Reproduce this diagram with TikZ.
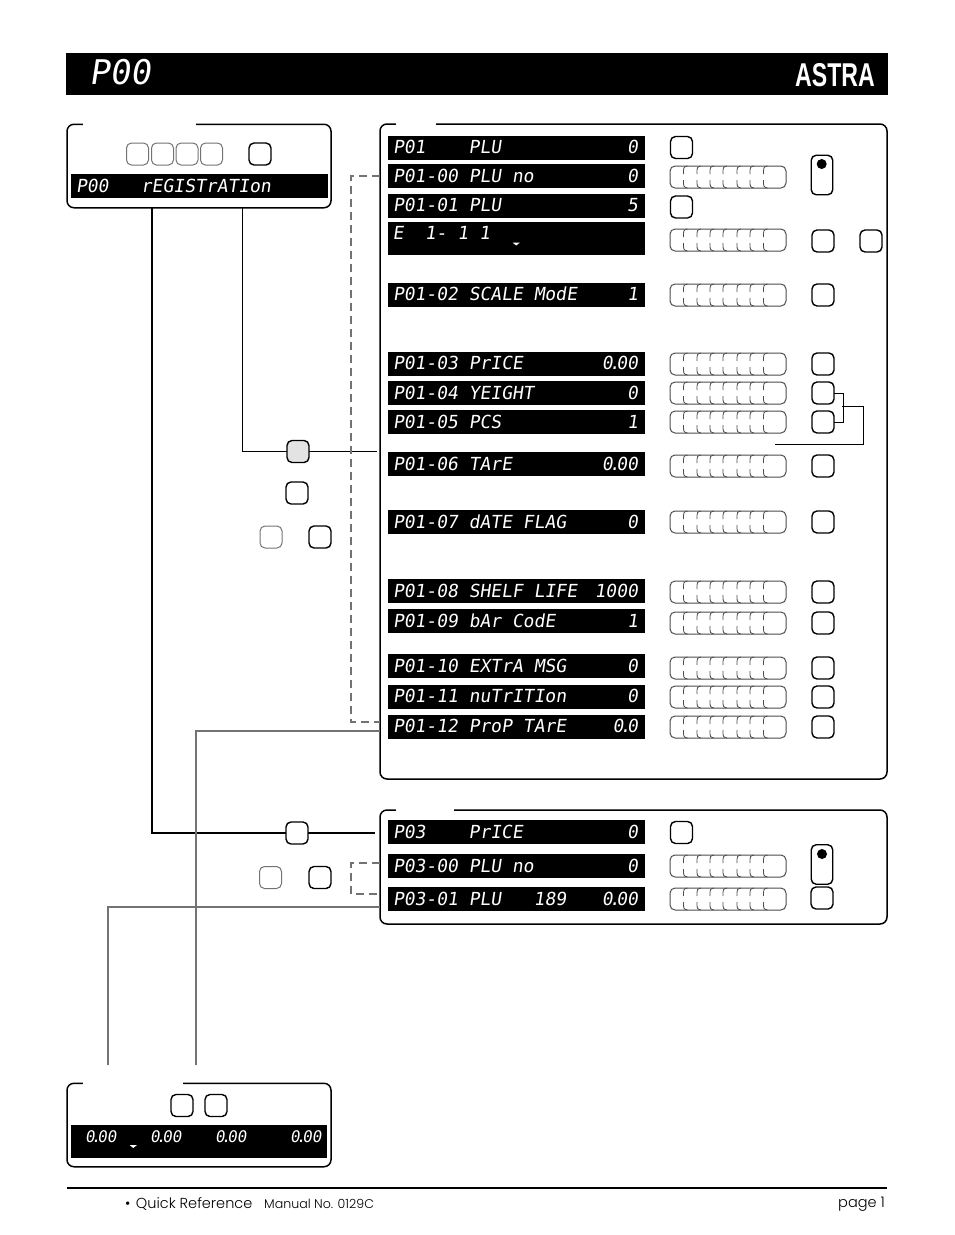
\documentclass[tikz,border=0pt]{standalone}
\usepackage{fontspec}
\usetikzlibrary{positioning}
\newfontfamily\dispfont[FakeSlant=0.15]{DejaVu Sans Mono}
\newfontfamily\logofont[FakeStretch=0.7]{Liberation Sans}
\newfontfamily\footfont{Poppins Light}
\newcommand{\dispdot}{\kern-3.6pt.\kern-3.6pt}
\tikzset{
    panel/.style={draw, line width=1.5pt, rounded corners=7pt, inner sep=0pt, outer sep=0pt},
    panelgap/.style={white, line width=3pt},
    keybtn/.style={draw, line width=1.4pt, rounded corners=5pt, minimum size=22pt, inner sep=0pt, outer sep=0pt},
    keythin/.style={keybtn, draw=black!55, line width=1pt},
    keytall/.style={keybtn, minimum width=21.5pt, minimum height=39.5pt},
    dispbar/.style={fill=black, text=white, font=\dispfont\fontsize{18}{18}\selectfont, inner xsep=5pt, inner ysep=0pt, outer sep=0pt, text width=247pt, text height=12pt, text depth=0pt, minimum height=24pt, execute at begin node={\spaceskip=10.8pt\relax\rightskip=2pt\relax}},
    dtext/.style={text=white, font=\dispfont\fontsize{16}{16}\selectfont, inner sep=0pt, anchor=west},
    wire/.style={draw, line width=1pt},
    wirelink/.style={draw=black!55, line width=1.7pt},
    wiredash/.style={draw=black!55, line width=2pt, dash pattern=on 8pt off 5pt},
    footline/.style={font=\footfont\fontsize{14.5}{14.5}\selectfont, inner sep=0pt},
    keystrip/.pic={
        \node[draw=black!70, line width=1pt, rounded corners=5pt, minimum width=116pt, minimum height=22pt, inner sep=0pt, outer sep=0pt] (-box) {};
        \foreach \i in {-44.5,-31,-18,-5,9,22,35.5}
            \draw[black!70, line width=0.8pt] (\i+4,-11) .. controls (\i,-10) .. (\i,-3) (\i,3) .. controls (\i,10) .. (\i+4,11);
    }
}
\begin{document}
\begin{tikzpicture}[x=1pt, y=-1pt]
    \useasboundingbox (0,0) rectangle (954,1235);

    \node[fill=black, minimum width=822pt, minimum height=42pt, inner sep=0pt] (titlebar) at (477,74) {};
    \node[text=white, font=\dispfont\fontsize{34}{34}\selectfont, inner sep=0pt, anchor=west] (titletext) at (89,72) {P00};
    \node[text=white, font=\logofont\bfseries\fontsize{33}{33}\selectfont, inner sep=0pt] (logo) at (835,75) {ASTRA};

    \node[panel, minimum width=264pt, minimum height=83.5pt] (regpanel) at (199,166) {};
    \draw[panelgap] (83,124.2) -- (196,124.2);
    \node[keythin] (regk1) at (137.5,154) {};
    \node[keythin] (regk2) at (162.5,154) {};
    \node[keythin] (regk3) at (187,154) {};
    \node[keythin] (regk4) at (211.5,154) {};
    \node[keybtn] (regk5) at (260,154) {};
    \node[dispbar] (regbar) at (199.5,186) {P00~~~rEGISTrATIon};

    \node[panel, minimum width=507pt, minimum height=655pt] (mainpanel) at (633.5,451.5) {};
    \draw[panelgap] (396,124) -- (436,124);
    \node[dispbar] (p01) at (516.5,147.5) {P01~~~~PLU\hfill 0};
    \node[dispbar] (p0100) at (516.5,176) {P01-00 PLU no\hfill 0};
    \node[dispbar] (p0101) at (516.5,205.5) {P01-01 PLU\hfill 5};
    \node[dispbar, minimum height=33pt, text depth=11pt] (enote) at (516,238.5) {E~~1-~1~1};
    \fill[white] (512.5,242.5) -- (520,242.5) -- (516.2,245.5) -- cycle;
    \node[dispbar] (p0102) at (516.5,294.5) {P01-02 SCALE ModE\hfill 1};
    \node[dispbar] (p0103) at (516.5,363.5) {P01-03 PrICE\hfill 0\dispdot 00};
    \node[dispbar] (p0104) at (516.5,393) {P01-04 YEIGHT\hfill 0};
    \node[dispbar] (p0105) at (516.5,422) {P01-05 PCS\hfill 1};
    \node[dispbar] (p0106) at (516.5,464) {P01-06 TArE\hfill 0\dispdot 00};
    \node[dispbar] (p0107) at (516.5,522) {P01-07 dATE FLAG\hfill 0};
    \node[dispbar] (p0108) at (516.5,591) {P01-08 SHELF LIFE\hfill 1000};
    \node[dispbar] (p0109) at (516.5,621) {P01-09 bAr CodE\hfill 1};
    \node[dispbar] (p0110) at (516.5,666) {P01-10 EXTrA MSG\hfill 0};
    \node[dispbar] (p0111) at (516.5,696.5) {P01-11 nuTrITIon\hfill 0};
    \node[dispbar] (p0112) at (516.5,726.5) {P01-12 ProP TArE\hfill 0\dispdot 0};

    \node[keybtn] (plukey) at (681.5,147.5) {};
    \node[keybtn] (plukeyb) at (681.5,207) {};
    \pic (s00) at (728,177) {keystrip};
    \pic (s01) at (728,240) {keystrip};
    \pic (s02) at (728,295) {keystrip};
    \pic (s03) at (728,364) {keystrip};
    \pic (s04) at (728,393) {keystrip};
    \pic (s05) at (728,422) {keystrip};
    \pic (s06) at (728,466) {keystrip};
    \pic (s07) at (728,522) {keystrip};
    \pic (s08) at (728,592) {keystrip};
    \pic (s09) at (728,623) {keystrip};
    \pic (s10) at (728,668) {keystrip};
    \pic (s11) at (728,697) {keystrip};
    \pic (s12) at (728,727) {keystrip};

    \node[keytall] (lockkey) at (822,175) {};
    \fill (821.7,164) circle (5pt);
    \node[keybtn] (k01) at (823,241) {};
    \node[keybtn] (k01b) at (871,241) {};
    \node[keybtn] (k02) at (823,295) {};
    \node[keybtn] (k03) at (823,364) {};
    \node[keybtn] (k04) at (823,393) {};
    \node[keybtn] (k05) at (823,422) {};
    \node[keybtn] (k06) at (823,466) {};
    \node[keybtn] (k07) at (823,522) {};
    \node[keybtn] (k08) at (823,592) {};
    \node[keybtn] (k09) at (823,623) {};
    \node[keybtn] (k10) at (823,668) {};
    \node[keybtn] (k11) at (823,697) {};
    \node[keybtn] (k12) at (823,727) {};

    \coordinate (brkout) at (842,406);
    \coordinate (brkturn) at (863,444);
    \coordinate (brkend) at (775,444);
    \draw[wire] (k04.east) -- ++(9,0) |- (k05.east);
    \draw[wire] (brkout) -| (brkturn) -- (brkend);

    \node[panel, minimum width=507pt, minimum height=114pt] (pricepanel) at (633.5,867) {};
    \draw[panelgap] (396,810) -- (454,810);
    \node[dispbar] (p03) at (516.5,832) {P03~~~~PrICE\hfill 0};
    \node[dispbar] (p0300) at (516.5,866) {P03-00 PLU no\hfill 0};
    \node[dispbar] (p0301) at (516.5,899) {P03-01 PLU~~~189\hfill 0\dispdot 00};
    \node[keybtn] (pricekey) at (681.5,832.5) {};
    \pic (s20) at (728,866) {keystrip};
    \pic (s21) at (728,899) {keystrip};
    \node[keytall] (lockprice) at (822,864.5) {};
    \fill (822,854) circle (5pt);
    \node[keybtn] (k21) at (822,898) {};

    \node[keybtn, fill=black!11] (kmid) at (298,451.5) {};
    \node[keybtn] (kmidb) at (297,493) {};
    \node[keythin] (kmidc) at (271,537) {};
    \node[keybtn] (kmidd) at (320,537) {};
    \node[keybtn] (kprice) at (297,833) {};
    \node[keythin] (kpricec) at (270.5,877.5) {};
    \node[keybtn] (kpriced) at (320,877.5) {};

    \coordinate (regoutA) at (152,207.5);
    \coordinate (regoutB) at (242,207.5);
    \coordinate (midend) at (377,451.5);
    \coordinate (priceend) at (375,833);
    \draw[wire] (regoutB) |- (kmid.west);
    \draw[wire] (kmid.east) -- (midend);
    \draw[wire, line width=1.3pt] (regoutA) |- (kprice.west);
    \draw[wire, line width=1.3pt] (kprice.east) -- (priceend);

    \coordinate (dashtop) at (380,176);
    \coordinate (dashbot) at (380,722);
    \coordinate (dashtopb) at (380,862.5);
    \coordinate (dashbotb) at (380,894);
    \draw[wiredash] (dashtop) -- (351,176) -- (351,722) -- (dashbot);
    \draw[wiredash] (dashtopb) -- (351,862.5) -- (351,894) -- (dashbotb);

    \coordinate (linkA) at (196,1065);
    \coordinate (linkAend) at (380,731);
    \coordinate (linkB) at (108,1065);
    \coordinate (linkBend) at (380,907);
    \draw[wirelink] (linkA) |- (linkAend);
    \draw[wirelink, line width=1.2pt] (linkB) |- (linkBend);

    \node[panel, minimum width=264pt, minimum height=83.5pt] (calcpanel) at (199,1125) {};
    \draw[panelgap] (83,1083.2) -- (183,1083.2);
    \node[keybtn] (calck1) at (182,1105.5) {};
    \node[keybtn] (calck2) at (216,1105.5) {};
    \node[dispbar, minimum height=33pt, text width=246pt] (calcbar) at (199,1141.5) {};
    \node[dtext] (calcv1) at (85,1137) {0\dispdot 00};
    \node[dtext] (calcv2) at (150,1137) {0\dispdot 00};
    \node[dtext] (calcv3) at (215,1137) {0\dispdot 00};
    \node[dtext] (calcv4) at (290,1137) {0\dispdot 00};
    \fill[white] (129.5,1145) -- (137,1145) -- (133.2,1148) -- cycle;

    \coordinate (footl) at (67,1188);
    \coordinate (footr) at (887,1188);
    \draw[line width=1.7pt] (footl) -- (footr);
    \node[footline, anchor=west] (qref) at (125,1204) {•\kern1.5pt\ Quick Reference};
    \node[footline, font=\footfont\fontsize{12.6}{12.6}\selectfont, anchor=west] (manual) at (264,1203.5) {Manual No. 0129C};
    \node[footline, anchor=east] (pagenum) at (885,1204) {page 1};
\end{tikzpicture}
\end{document}
